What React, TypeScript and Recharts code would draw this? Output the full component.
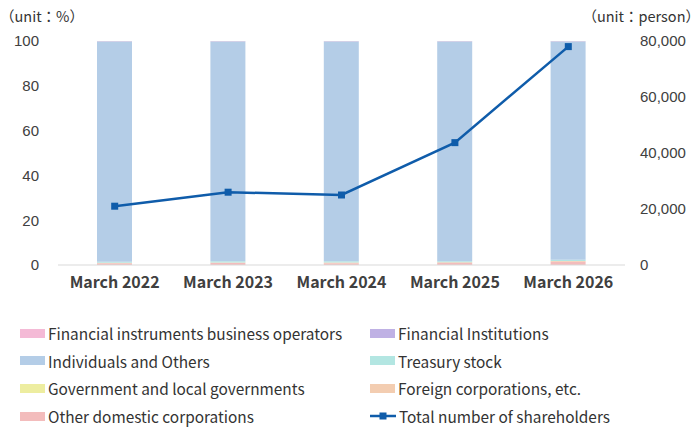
import { ComposedChart, Bar, Line, XAxis, YAxis } from 'recharts'

const years = ['March 2022', 'March 2023', 'March 2024', 'March 2025', 'March 2026']
const otherDomestic = [0.8, 0.9, 0.8, 0.9, 1.4]
const foreign = [0.2, 0.2, 0.3, 0.3, 0.4]
const government = [0, 0, 0, 0, 0]
const treasury = [0.5, 0.6, 0.6, 0.5, 0.5]
const individuals = [98.4, 98.2, 98.2, 98.2, 97.6]
const finInstitutions = [0, 0, 0, 0, 0]
const finInstruments = [0.1, 0.1, 0.1, 0.1, 0.1]
const shareholders = [21000, 26000, 25000, 43700, 78000]

const pctTicks = [0, 20, 40, 60, 80, 100]
const personTicks = [0, 20000, 40000, 60000, 80000]

const data = years.map((y, i) => ({
  year: y,
  otherDomestic: otherDomestic[i],
  foreign: foreign[i],
  government: government[i],
  treasury: treasury[i],
  individuals: individuals[i],
  finInstitutions: finInstitutions[i],
  finInstruments: finInstruments[i],
  shareholders: shareholders[i],
}))

const bars = [
  { key: 'otherDomestic', color: '#F3BCBC' },
  { key: 'foreign', color: '#F3CDB1' },
  { key: 'government', color: '#EDEDA0' },
  { key: 'treasury', color: '#B3E6E2' },
  { key: 'individuals', color: '#B4CDE7' },
  { key: 'finInstitutions', color: '#BFB1E4' },
  { key: 'finInstruments', color: '#F4BAD6' },
]

const legendItems = [
  { name: 'Financial instruments business operators', color: '#F4BAD6' },
  { name: 'Financial Institutions', color: '#BFB1E4' },
  { name: 'Individuals and Others', color: '#B4CDE7' },
  { name: 'Treasury stock', color: '#B3E6E2' },
  { name: 'Government and local governments', color: '#EDEDA0' },
  { name: 'Foreign corporations, etc.', color: '#F3CDB1' },
  { name: 'Other domestic corporations', color: '#F3BCBC' },
  { name: 'Total number of shareholders', color: '#0F5CAA', line: true },
]

const jp = '"Noto Sans CJK JP", "Noto Sans", sans-serif'
const num = '"Liberation Sans", Arial, sans-serif'

const SquareDot = (props: any) => {
  const { cx, cy } = props
  if (cx == null || cy == null) return null
  return <rect x={cx - 3.5} y={cy - 3.5} width={7} height={7} fill="#0F5CAA" />
}

if (typeof document !== 'undefined') document.body.style.margin = '0'

export default function App() {
  return (
    <div style={{ position: 'relative', width: 700, height: 433, background: '#fff', fontFamily: jp }}>
      <div style={{ position: 'absolute', left: 0, top: 5, fontSize: 14.5, color: '#333' }}>（unit：%）</div>
      <div style={{ position: 'absolute', right: 0, top: 5, fontSize: 14.5, color: '#333' }}>（unit：person）</div>
      <ComposedChart
        width={700}
        height={300}
        data={data}
        barSize={35}
        margin={{ top: 41, right: 0, bottom: 5, left: 0 }}
      >
        <XAxis
          dataKey="year"
          tick={{ fill: '#404040', fontSize: 16, fontWeight: 700, fontFamily: jp }}
          axisLine={{ stroke: '#D9D9D9' }}
          tickLine={false}
          tickSize={0}
          tickMargin={12}
          height={30}
        />
        <YAxis
          yAxisId="pct"
          domain={[0, 100]}
          ticks={pctTicks}
          width={58}
          axisLine={false}
          tickLine={false}
          tickSize={0}
          tickMargin={19}
          tick={{ fill: '#404040', fontSize: 15, fontFamily: num }}
        />
        <YAxis
          yAxisId="person"
          orientation="right"
          domain={[0, 80000]}
          ticks={personTicks}
          width={75}
          axisLine={false}
          tickLine={false}
          tickSize={0}
          tickMargin={15}
          tickFormatter={(v: number) => v.toLocaleString('en-US')}
          tick={{ fill: '#404040', fontSize: 15, fontFamily: num }}
        />
        {bars.map(b => (
          <Bar
            key={b.key}
            yAxisId="pct"
            dataKey={b.key}
            stackId="a"
            fill={b.color}
            isAnimationActive={false}
          />
        ))}
        <Line
          yAxisId="person"
          dataKey="shareholders"
          stroke="#0F5CAA"
          strokeWidth={2.5}
          dot={<SquareDot />}
          activeDot={false}
          isAnimationActive={false}
        />
      </ComposedChart>
      {legendItems.map((item, i) => {
        const col = i % 2
        const row = Math.floor(i / 2)
        return (
          <div
            key={item.name}
            style={{
              position: 'absolute',
              left: col === 0 ? 20 : 370,
              top: 333 + row * 27.7 - 11,
              height: 22,
              display: 'flex',
              alignItems: 'center',
              fontSize: 15.4,
              color: '#333',
              whiteSpace: 'nowrap',
            }}
          >
            {item.line ? (
              <svg width={26} height={10} style={{ marginRight: 3 }}>
                <line x1={0} y1={5} x2={26} y2={5} stroke={item.color} strokeWidth={2.5} />
                <rect x={9.5} y={1.5} width={7} height={7} fill={item.color} />
              </svg>
            ) : (
              <span style={{ width: 25, height: 9, background: item.color, marginRight: 3, display: 'inline-block' }} />
            )}
            {item.name}
          </div>
        )
      })}
    </div>
  )
}
